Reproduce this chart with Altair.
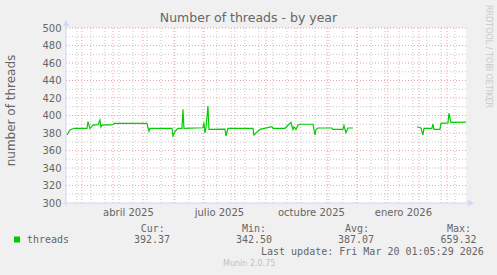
import altair as alt
import pandas as pd

# ---- data ----
dates = [
    "2025-02-14", "2025-02-17", "2025-02-21", "2025-03-06", "2025-03-07",
    "2025-03-09", "2025-03-12", "2025-03-17", "2025-03-19", "2025-03-20",
    "2025-03-21", "2025-04-01", "2025-04-02", "2025-05-05", "2025-05-07",
    "2025-05-08", "2025-05-30", "2025-05-31", "2025-06-02", "2025-06-05",
    "2025-06-09", "2025-06-10", "2025-06-11", "2025-06-30", "2025-07-01",
    "2025-07-02", "2025-07-03", "2025-07-05", "2025-07-06", "2025-07-22",
    "2025-07-23", "2025-07-25", "2025-08-19", "2025-08-20", "2025-08-23",
    "2025-08-26", "2025-09-07", "2025-09-08", "2025-09-20", "2025-09-26",
    "2025-09-28", "2025-09-29", "2025-10-01", "2025-10-03", "2025-10-05",
    "2025-10-18", "2025-10-20", "2025-10-21", "2025-10-23", "2025-11-06",
    "2025-11-07", "2025-11-17", "2025-11-18", "2025-11-20", "2025-11-22",
    "2025-11-27", "2025-11-28", "2026-01-30", "2026-02-03", "2026-02-05",
    "2026-02-06", "2026-02-14", "2026-02-15", "2026-02-16", "2026-02-22",
    "2026-02-23", "2026-03-02", "2026-03-03", "2026-03-05", "2026-03-20",
]
threads = [
    377.7, 383.4, 385.4, 385.4, 393.0,
    385.0, 389.0, 389.5, 394.9, 387.0,
    389.0, 389.5, 391.0, 391.0, 382.0,
    385.4, 385.4, 376.6, 381.5, 385.4,
    385.4, 407.0, 385.4, 386.0, 392.0,
    380.0, 385.4, 410.9, 384.2, 384.5,
    376.6, 385.4, 385.4, 377.7, 381.0,
    384.2, 387.2, 385.4, 385.4, 392.2,
    384.0, 387.0, 384.2, 389.0, 390.0,
    390.0, 377.7, 384.0, 385.7, 385.7,
    384.2, 384.2, 388.5, 380.4, 385.7,
    385.7, None, 387.2, 385.7, 377.7,
    385.4, 385.4, 390.3, 384.2, 384.2,
    391.0, 391.5, 402.5, 392.2, 392.4,
]

y_major = [320, 340, 360, 380, 400, 420, 440, 460, 480, 500]
y_minor = [310, 330, 350, 370, 390, 410, 430, 450, 470, 490]
y_ticks = [300, 320, 340, 360, 380, 400, 420, 440, 460, 480, 500]
month_starts = [
    "2025-03-01", "2025-04-01", "2025-05-01", "2025-06-01", "2025-07-01",
    "2025-08-01", "2025-09-01", "2025-10-01", "2025-11-01", "2025-12-01",
    "2026-01-01", "2026-02-01", "2026-03-01",
]
minor_start = "2025-02-24"
minor_end = "2026-03-20"
x_tick_dates = ["2025-04-16", "2025-07-16", "2025-10-16", "2026-01-16"]
months_es = ["enero", "febrero", "marzo", "abril", "mayo", "junio", "julio",
             "agosto", "septiembre", "octubre", "noviembre", "diciembre"]

legend_heads = ["Cur:", "Min:", "Avg:", "Max:"]
legend_vals = ["392.37", "342.50", "387.07", "659.32"]
series_name = "threads"
title_text = "Number of threads - by year"
y_title = "number of threads"
last_update = "Last update: Fri Mar 20 01:05:29 2026"
footer = "Munin 2.0.75"
side_text = "RRDTOOL / TOBI OETIKER"

# ---- style ----
FONT = "DejaVu Sans"
MONO = "DejaVu Sans Mono"
TXT = "#666666"
AXIS_C = "#CFD6F8"
MGRID = "#EBA5A5"
GRID = "#C6C6C6"
LINE_C = "#00CC00"
L, T = 66, 28
W, H = 400, 175

df = pd.DataFrame({"date": pd.to_datetime(dates), "threads": threads})
x_scale = alt.Scale(domain=[alt.DateTime(year=2025, month=2, date=13, hours=1, minutes=5),
                            alt.DateTime(year=2026, month=3, date=20, hours=1, minutes=5)])
y_scale = alt.Scale(domain=[300, 500])

label_expr = "[" + ",".join("'%s'" % m for m in months_es) + "][month(datum.value)] + ' ' + year(datum.value)"
x_axis = alt.Axis(values=[alt.DateTime(year=int(s[:4]), month=int(s[5:7]), date=int(s[8:10])) for s in x_tick_dates],
                  labelExpr=label_expr, title=None, labelOverlap=False)
y_axis = alt.Axis(values=y_ticks, labelOverlap=False, title=y_title)

minor_dates = [d for d in pd.date_range(minor_start, minor_end, freq="14D")]
vmin = alt.Chart(pd.DataFrame({"d": minor_dates})).mark_rule(
    color=GRID, strokeDash=[1, 2], strokeWidth=1).encode(x=alt.X("d:T", scale=x_scale, axis=x_axis))
hmin = alt.Chart(pd.DataFrame({"v": y_minor})).mark_rule(
    color=GRID, strokeDash=[1, 2], strokeWidth=1).encode(y=alt.Y("v:Q", scale=y_scale, axis=y_axis))
vmaj = alt.Chart(pd.DataFrame({"d": pd.to_datetime(month_starts)})).mark_rule(
    color=MGRID, strokeDash=[1, 2], strokeWidth=1).encode(x=alt.X("d:T", scale=x_scale, axis=x_axis))
hmaj = alt.Chart(pd.DataFrame({"v": y_major})).mark_rule(
    color=MGRID, strokeDash=[1, 2], strokeWidth=1).encode(y=alt.Y("v:Q", scale=y_scale, axis=y_axis))

line = alt.Chart(df).mark_line(color=LINE_C, strokeWidth=1.2).encode(
    x=alt.X("date:T", scale=x_scale, axis=x_axis),
    y=alt.Y("threads:Q", scale=y_scale, axis=y_axis),
)

xaxis = alt.Chart(pd.DataFrame({"v": [300]})).mark_rule(color=AXIS_C, strokeWidth=1).encode(
    y=alt.Y("v:Q", scale=y_scale, axis=y_axis), x=alt.value(-3), x2=alt.value(W + 4))
yaxis = alt.Chart(pd.DataFrame({"v": [300]})).mark_rule(color=AXIS_C, strokeWidth=1).encode(
    x=alt.value(0), y=alt.value(H + 3), y2=alt.value(-5))
arrow_r = alt.Chart(pd.DataFrame({"v": [300]})).mark_point(
    shape="triangle-right", filled=True, color=AXIS_C, opacity=1, size=40).encode(
    y=alt.Y("v:Q", scale=y_scale, axis=y_axis), x=alt.value(W + 5))
arrow_u = alt.Chart(pd.DataFrame({"v": [300]})).mark_point(
    shape="triangle-up", filled=True, color=AXIS_C, opacity=1, size=40).encode(
    x=alt.value(0), y=alt.value(-5))

def txt(text, x, y, font=FONT, size=10, color=TXT, align="left", baseline="middle", angle=0):
    kw = dict(font=font, fontSize=size, color=color, align=align, baseline=baseline)
    if angle:
        kw["angle"] = angle
    return alt.Chart(pd.DataFrame({"t": [text]})).mark_text(**kw).encode(
        text="t:N", x=alt.value(x - L), y=alt.value(y - T))

texts = [
    txt(title_text, 248.5, 22, size=12.5, align="center", baseline="alphabetic"),
    txt(side_text, 488, 5, size=8, color="#C8C8C8", angle=90),
    txt(series_name, 27, 239.5, font=MONO),
    txt(last_update, 261, 251.5, font=MONO),
    txt(footer, 223, 264, size=8, color="#C0C0C0"),
]
for h, hx in zip(legend_heads, [140.7, 242, 345, 447]):
    texts.append(txt(h, hx, 228.5, font=MONO))
for v, vx in zip(legend_vals, [134, 236, 338, 440.5]):
    texts.append(txt(v, vx, 239.5, font=MONO))

swatch = alt.Chart(pd.DataFrame({"s": [series_name]})).mark_rect(color=LINE_C).encode(
    x=alt.value(14 - L), x2=alt.value(20 - L), y=alt.value(236.5 - T), y2=alt.value(242.5 - T))

chart = alt.layer(vmin, hmin, vmaj, hmaj, line, xaxis, yaxis, arrow_r, arrow_u, swatch, *texts).properties(
    width=W, height=H,
    autosize=alt.AutoSizeParams(type="none"),
    padding={"left": L, "top": T, "right": 497 - L - W, "bottom": 275 - T - H},
    background="#F0F0F0",
).configure_view(stroke=None, fill="#FFFFFF").configure_axis(
    domain=False, ticks=False, grid=False, labelOverlap=False,
    labelFont=FONT, labelFontSize=10, labelColor=TXT,
    titleFont=FONT, titleFontSize=12, titleFontWeight="normal", titleColor=TXT,
).configure_axisX(labelPadding=4).configure_axisY(
    labelPadding=5, labelBound=False, titleX=-56, titleY=82, titleAngle=-90,
    titleBaseline="middle", titleAlign="center")

chart.save("out.html", embed_options={"renderer": "svg", "actions": False})
